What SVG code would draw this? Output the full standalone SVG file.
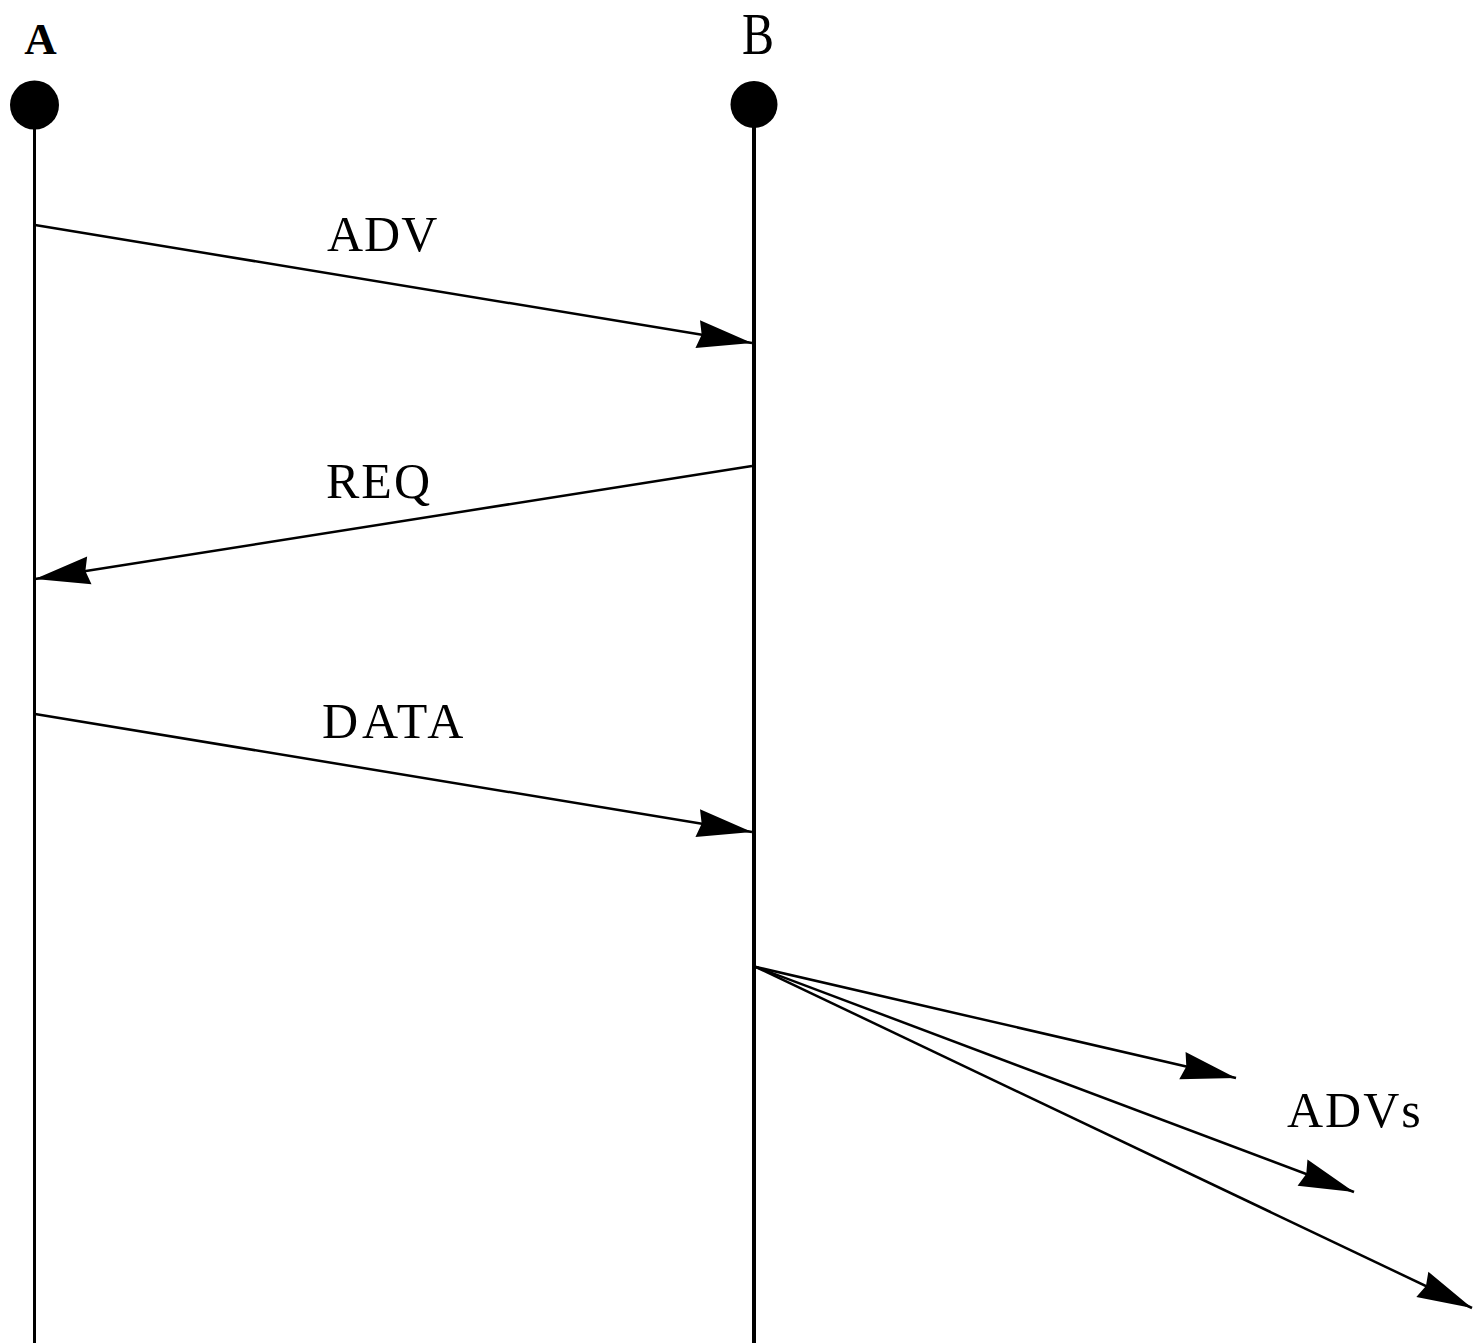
<svg xmlns="http://www.w3.org/2000/svg" width="1473" height="1343" viewBox="0 0 1473 1343">
  <style>
    .lbl { font-family: "Liberation Serif", "Times New Roman", serif; font-size: 50px; fill: #000; }
    .life { stroke: #000; fill: none; }
    .msg { stroke: #000; stroke-width: 2.5; fill: none; marker-end: url(#arr); }
  </style>
  <defs>
    <marker id="arr" markerUnits="userSpaceOnUse" markerWidth="60" markerHeight="34" refX="56" refY="15" orient="auto">
      <path d="M1,1 L56,15 L1,29 L5,15 z" fill="#000"/>
    </marker>
  </defs>
  <rect width="1473" height="1343" fill="#fff"/>
  <g id="nodeA">
    <text class="lbl" x="40.5" y="54" text-anchor="middle" style="font-size:45px;font-weight:bold">A</text>
    <circle cx="34.5" cy="105" r="24.5" fill="#000"/>
    <line class="life" x1="34.5" y1="105" x2="34.5" y2="1343" stroke-width="3"/>
  </g>
  <g id="nodeB">
    <text class="lbl" x="0" y="0" text-anchor="middle" transform="translate(758,54) scale(0.8,1)" style="font-size:60px">B</text>
    <circle cx="754" cy="104.5" r="23.5" fill="#000"/>
    <line class="life" x1="754" y1="104" x2="754" y2="1343" stroke-width="4"/>
  </g>
  <g id="connectors">
    <line class="msg" x1="35" y1="225" x2="752" y2="343"/>
    <line class="msg" x1="752" y1="466" x2="35" y2="579"/>
    <line class="msg" x1="35" y1="714" x2="752" y2="832"/>
    <line class="msg" x1="756" y1="967" x2="1236" y2="1078"/>
    <line class="msg" x1="756" y1="967" x2="1354" y2="1192"/>
    <line class="msg" x1="756" y1="967" x2="1472" y2="1308"/>
  </g>
  <g id="labels">
    <text class="lbl" x="327" y="251" letter-spacing="1">ADV</text>
    <text class="lbl" x="326" y="498" letter-spacing="2">REQ</text>
    <text class="lbl" x="322" y="738" letter-spacing="4">DATA</text>
    <text class="lbl" x="1287" y="1127" letter-spacing="2">ADVs</text>
  </g>
</svg>
